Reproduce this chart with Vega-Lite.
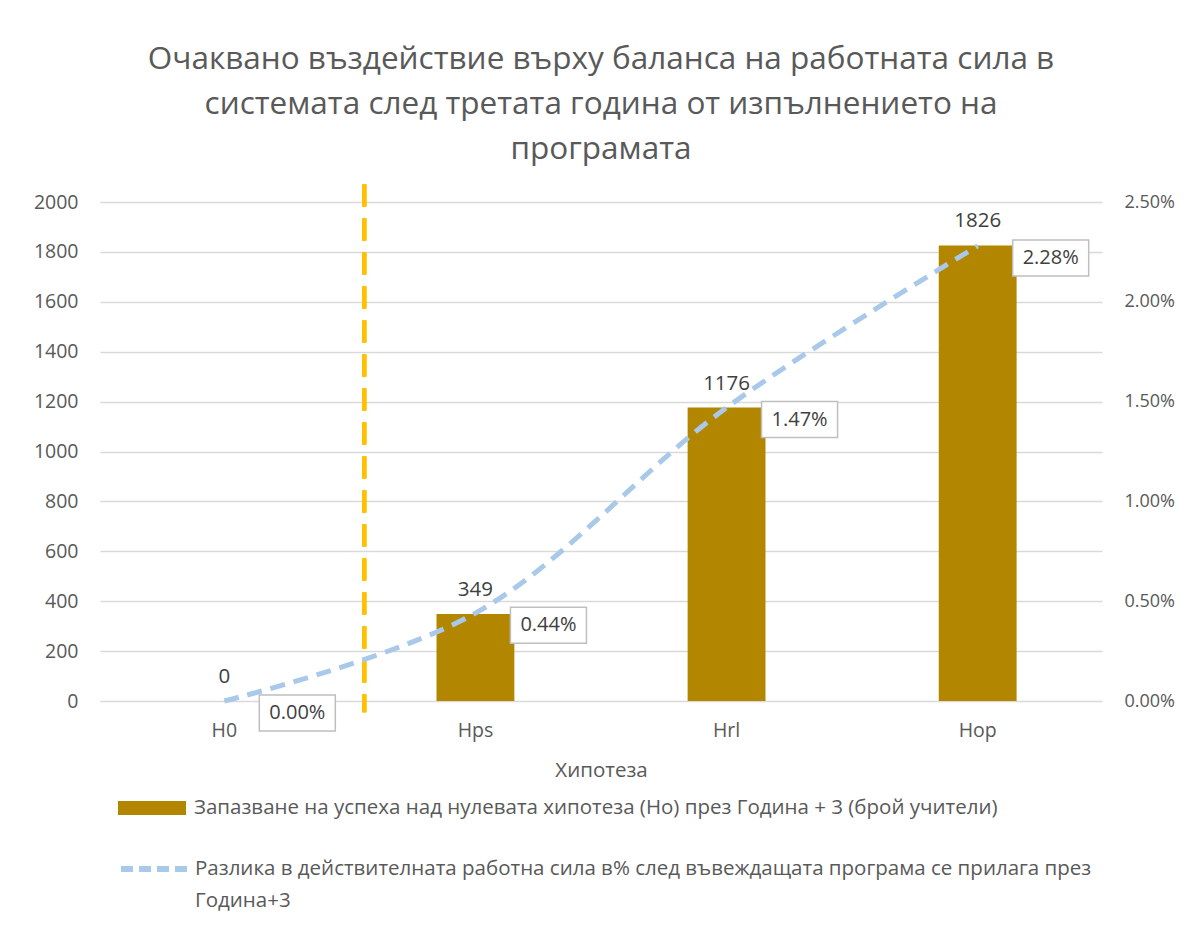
{
  "$schema": "https://vega.github.io/schema/vega-lite/v6.json",
  "width": 1002,
  "height": 499,
  "autosize": {"type": "none"},
  "padding": {"left": 100, "top": 202, "right": 86, "bottom": 241},
  "background": "white",
  "title": {
    "text": ["Очаквано въздействие върху баланса на работната сила в", "системата след третата година от изпълнението на", "програмата"],
    "font": "Open Sans",
    "fontSize": 31.5,
    "fontWeight": "normal",
    "color": "#595959",
    "lineHeight": 45,
    "anchor": "middle",
    "offset": 17
  },
  "config": {
    "view": {"stroke": null},
    "font": "Open Sans",
    "axis": {
      "labelFont": "Open Sans",
      "labelFontSize": 19.5,
      "labelColor": "#595959",
      "titleFont": "Open Sans",
      "titleFontSize": 20.5,
      "titleFontWeight": "normal",
      "titleColor": "#595959",
      "domain": false,
      "ticks": false
    },
    "legend": {
      "labelFont": "Open Sans",
      "labelFontSize": 20.5,
      "labelColor": "#595959",
      "labelLimit": 1200,
      "title": null
    }
  },
  "data": {
    "values": [
      {"cat": "H0", "teachers": 0, "pct": 0},
      {"cat": "Hps", "teachers": 349, "pct": 0.0044},
      {"cat": "Hrl", "teachers": 1176, "pct": 0.0147},
      {"cat": "Hop", "teachers": 1826, "pct": 0.0228}
    ]
  },
  "encoding": {
    "x": {
      "field": "cat",
      "type": "nominal",
      "sort": ["H0", "Hps", "Hrl", "Hop"],
      "scale": {"paddingInner": 0.69, "paddingOuter": 0.34},
      "axis": {"title": "Хипотеза", "labelAngle": 0, "labelPadding": 20, "titlePadding": 21, "grid": false}
    }
  },
  "layer": [
    {
      "layer": [
        {
          "mark": {"type": "bar", "color": "#B38600"},
          "encoding": {
            "y": {
              "field": "teachers",
              "type": "quantitative",
              "scale": {"domain": [0, 2000], "nice": false},
              "axis": {"title": null, "format": "d", "values": [0, 200, 400, 600, 800, 1000, 1200, 1400, 1600, 1800, 2000], "grid": true, "gridColor": "#D9D9D9", "gridWidth": 1.3, "labelPadding": 22}
            },
            "fill": {
              "datum": "Запазване на успеха над нулевата хипотеза (Но) през Година + 3 (брой учители)",
              "type": "nominal",
              "scale": {"range": ["#B38600"]},
              "legend": {
                "orient": "none",
                "legendX": 18,
                "legendY": 572,
                "symbolType": "M-1,-0.206H1V0.206H-1Z",
                "symbolSize": 4624,
                "symbolStrokeWidth": 0,
                "labelOffset": 8
              }
            }
          }
        },
        {
          "mark": {"type": "text", "baseline": "middle", "dy": -24, "fontSize": 20.5, "color": "#404040"},
          "encoding": {
            "y": {"field": "teachers", "type": "quantitative"},
            "text": {"field": "teachers", "type": "quantitative", "format": "d"}
          }
        },
        {
          "mark": {"type": "rule", "color": "#FFC000", "strokeWidth": 4, "strokeDash": [22, 12], "xOffset": 140},
          "encoding": {
            "x": {"datum": "H0", "type": "nominal"},
            "y": {"datum": 2070, "type": "quantitative"},
            "y2": {"datum": -45}
          }
        }
      ]
    },
    {
      "layer": [
        {
          "mark": {"type": "line", "interpolate": "catmull-rom", "strokeWidth": 5, "strokeDash": [15, 9]},
          "encoding": {
            "y": {
              "field": "pct",
              "type": "quantitative",
              "scale": {"domain": [0, 0.025], "nice": false},
              "axis": {"title": null, "orient": "right", "format": ".2%", "values": [0, 0.005, 0.01, 0.015, 0.02, 0.025], "grid": false, "labelPadding": 22, "labelFontSize": 18}
            },
            "stroke": {
              "datum": "Разлика в действителната работна сила в% след въвеждащата програма се прилага през",
              "type": "nominal",
              "scale": {"range": ["#A9C9EA"]},
              "legend": {
                "orient": "none",
                "legendX": 18,
                "legendY": 630,
                "symbolType": "stroke",
                "symbolSize": 4624,
                "symbolStrokeWidth": 6,
                "symbolDash": [12, 6],
                "labelOffset": 3,
                "labelExpr": "[datum.label, 'Година+3']",
                "encoding": {"labels": {"lineHeight": {"value": 32}}}
              }
            }
          }
        },
        {
          "mark": {"type": "point", "shape": "M-1,-0.474H1V0.474H-1Z", "size": 5776, "filled": true, "fill": "white", "stroke": "#BFBFBF", "strokeWidth": 1.5, "opacity": 1, "xOffset": 73, "yOffset": 12},
          "encoding": {
            "y": {"field": "pct", "type": "quantitative"}
          }
        },
        {
          "mark": {"type": "text", "baseline": "middle", "align": "center", "fontSize": 20, "color": "#404040", "dx": 73, "dy": 12},
          "encoding": {
            "y": {"field": "pct", "type": "quantitative"},
            "text": {"field": "pct", "type": "quantitative", "format": ".2%"}
          }
        }
      ]
    }
  ],
  "resolve": {"scale": {"y": "independent"}}
}
